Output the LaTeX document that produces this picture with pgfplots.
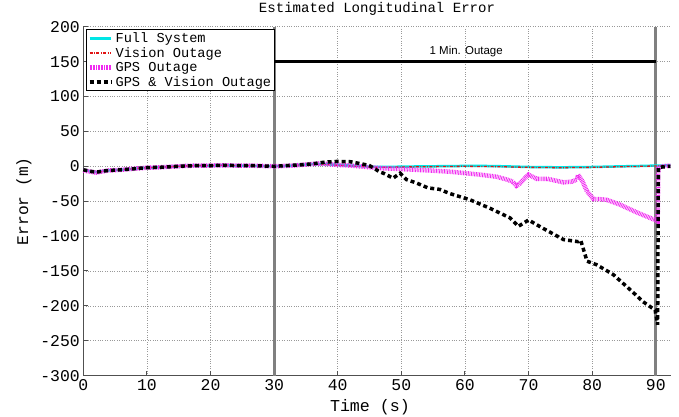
\documentclass[border=0pt]{standalone}
\usepackage{pgfplots}
\pgfplotsset{compat=1.18}
\usepackage{fontspec}
\setmainfont{Liberation Mono}
\newfontfamily\sansf{Liberation Sans}
\definecolor{cyanl}{RGB}{0,230,230}
\definecolor{redl}{RGB}{225,20,20}
\definecolor{magl}{RGB}{240,40,240}
\definecolor{grayl}{RGB}{128,128,128}
\definecolor{axgray}{RGB}{80,80,80}
\begin{document}
\begin{tikzpicture}
\begin{axis}[
  scale only axis,
  width=587.4bp, height=349bp,
  xmin=0, xmax=92.35, ymin=-300, ymax=200,
  xtick={0,10,...,90}, ytick={-300,-250,...,200},
  axis x line*=bottom, axis y line*=left,
  axis line style={axgray, line width=1.3bp, -},
  tick style={axgray, line width=1bp},
  tick align=inside, major tick length=5bp,
  grid=major,
  major grid style={dotted, gray!80, line width=0.7bp},
  /pgf/number format/assume math mode=true,
  ticklabel style={font=\fontsize{16.5}{18}\selectfont},
  title={Estimated Longitudinal Error},
  title style={font=\fontsize{14.1}{15}\selectfont, at={(axis description cs:0.5,1.0249)}, anchor=base},
  xlabel={Time (s)},
  xlabel style={font=\fontsize{16.7}{18}\selectfont, at={(axis description cs:0.488,-0.1032)}, anchor=base},
  ylabel={Error (m)},
  ylabel style={font=\fontsize{16.3}{18}\selectfont, at={(axis description cs:-0.0941,0.5)}, anchor=base, rotate=0},
  clip=false,
  legend style={at={(axis description cs:0.0046,0.9926)}, anchor=north west,
    font=\fontsize{13.7}{13.7}\selectfont, draw=black, line width=0.8bp,
    inner sep=1bp, row sep=-0.6bp, fill=white, cells={anchor=west}},
  legend image code/.code={\draw[#1] (0bp,0bp) -- (21.7bp,0bp);},
  legend cell align=left,
]
% outage markers
\addplot[grayl, line width=3bp, forget plot] coordinates {(30,-300) (30,200)};
\addplot[grayl, line width=3bp, forget plot] coordinates {(90,-300) (90,200)};
\addplot[black, line width=3bp, forget plot] coordinates {(30,150) (90,150)};
% Full System
\addplot[cyanl, line width=2.5bp] coordinates {
(0,-5) (1,-7) (2,-8.5) (3,-7) (4,-6) (6,-5) (8,-3.5) (10,-2) (12,-1.5) (14,-0.5) (16,0.5) (18,1) (20,1) (22,1.5) (24,1) (26,1) (28,0.5) (30,0) (32,0.5) (34,2) (36,3) (38,3) (40,2) (42,1) (44,0) (46,-1) (48,-1) (50,-0.5) (55,0) (60,0.5) (63,0.5) (66,0) (70,-1) (75,-1.5) (80,-1) (85,0) (88,0.5) (90,1) (91,1) (92.3,1.5)};
% Vision Outage
\addplot[redl, line width=1.3bp, dash pattern=on 3bp off 1.5bp on 0.8bp off 1.5bp] coordinates {
(0,-5.5) (1,-7.5) (2,-9) (3,-7.5) (4,-6) (6,-5) (8,-3.5) (10,-2) (12,-1.5) (14,-0.5) (16,0.5) (18,1) (20,1) (22,1.5) (24,1) (26,1) (28,0.5) (30,0) (32,0.5) (34,2) (36,2.5) (38,2.5) (40,1.5) (42,0.5) (44,-0.5) (46,-1.5) (48,-1.5) (50,-1) (55,-0.5) (60,0) (65,-0.5) (70,-1.5) (75,-2) (80,-1.5) (85,-0.5) (88,0) (90,0.5) (91,1) (92.3,1)};
% GPS Outage
\addplot[magl, line width=4.5bp, dash pattern=on 0.8bp off 0.8bp] coordinates {
(0,-6) (1,-7.5) (2,-9) (3,-7.5) (4,-6) (6,-5) (8,-3.5) (10,-2) (12,-1.5) (14,-0.5) (16,0.5) (18,1) (20,1) (22,1.5) (24,1) (26,1) (28,0.5) (30,0) (33,1) (35,2.5) (37,4) (38,3.5) (40,2) (42,1) (44,-0.5) (46.6,-2.6) (50,-4) (54.5,-6) (58,-8) (62.4,-12) (65,-15) (66.6,-19) (67.5,-22) (68.1,-28) (68.5,-26) (69.3,-18) (70,-12) (71.3,-18) (73,-18) (75.5,-23) (76.8,-22) (77.6,-19) (77.8,-12) (78.5,-22) (79.2,-36) (80.2,-47) (81,-47) (82.3,-48) (84.4,-55) (87,-66) (89.9,-77) (90.3,-79) (90.4,-3) (91,0) (92.3,1)};
% GPS & Vision Outage
\addplot[black, line width=3.5bp, dash pattern=on 4bp off 3bp] coordinates {
(0,-5) (1,-7) (2,-8.5) (3,-7) (4,-6) (6,-5) (8,-3.5) (10,-2) (12,-1.5) (14,-0.5) (16,0.5) (18,1) (20,1) (22,1.5) (24,1) (26,1) (28,0.5) (30,0) (32,1) (34,2) (36,3.5) (38,6) (40,7) (42,6.5) (44,3) (45,1) (46.6,-8) (47.2,-10) (48.7,-17) (49.8,-10) (50.8,-19) (52.4,-24) (54.2,-31) (56,-33) (57.6,-39) (60.8,-48) (63.9,-60) (67.1,-74) (68.4,-86) (70,-77) (72.3,-89) (75.5,-105) (77.8,-108) (78.2,-106) (79.2,-136) (80.7,-141) (83.3,-155) (86,-177) (88,-194) (89.9,-206) (90.3,-227) (90.4,-2) (91,-1) (92.3,0)};
\legend{Full System, Vision Outage, GPS Outage, GPS \& Vision Outage}
\node[font=\sansf\fontsize{11.5}{12}\selectfont, anchor=base] at (axis cs:60.2,160) {1 Min. Outage};
\end{axis}
\pgfresetboundingbox
\path[use as bounding box] ([shift={(-83.3bp,-41.3bp)}]current axis.south west) rectangle ([shift={(8.3bp,26.7bp)}]current axis.north east);
\end{tikzpicture}
\end{document}
